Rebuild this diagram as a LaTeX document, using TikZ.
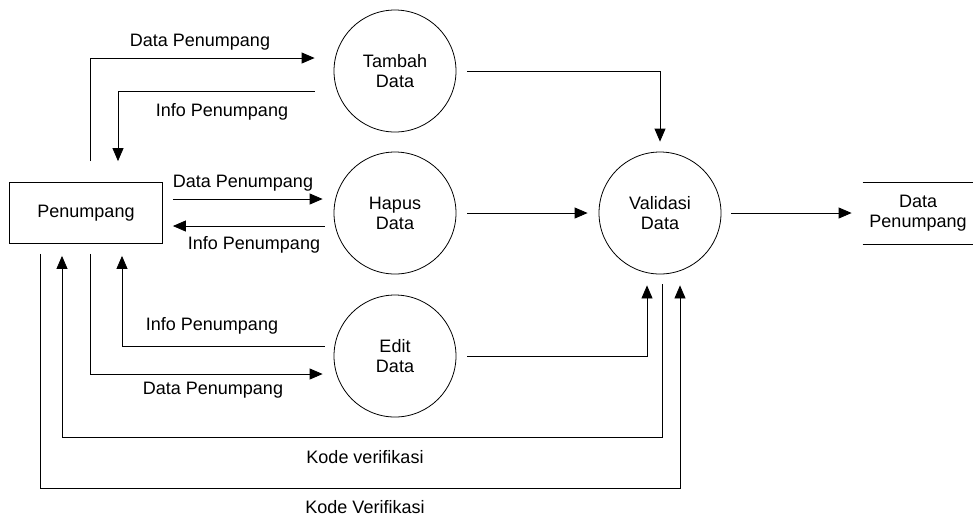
\documentclass[tikz,border=0pt]{standalone}
\usepackage{fontspec}
\setmainfont{Liberation Sans}
\usetikzlibrary{arrows.meta}
\begin{document}
\begin{tikzpicture}[x=0.5pt,y=-0.5pt,font=\fontsize{9}{10}\selectfont,
  box/.style={draw,minimum width=76.5pt,minimum height=30.5pt,inner sep=0pt},
  proc/.style={draw,circle,minimum size=61pt,inner sep=0pt,align=center},
  store/.style={minimum width=55pt,minimum height=30.5pt,inner sep=0pt,align=center},
  flow/.style={-{Triangle[length=6.5pt,width=5.5pt]}},
  lbl/.style={inner sep=0pt}]
\useasboundingbox (0,0) rectangle (973,516);
% entitas dan proses
\node[box] (pen) at (86,213) {Penumpang};
\node[proc] (tambah) at (395,71) {Tambah\\Data};
\node[proc] (hapus) at (395,213) {Hapus\\Data};
\node[proc] (edit) at (395,356) {Edit\\Data};
\node[proc] (valid) at (660,213) {Validasi\\Data};
\node[store] (store) at (918,213) {Data\\Penumpang};
\draw (store.north west) -- (store.north east) (store.south west) -- (store.south east);
% alur penumpang - tambah
\draw[flow] ([xshift=2pt,yshift=10.5pt]pen.north) |- ([xshift=-9.5pt,yshift=6.5pt]tambah.west);
\draw[flow] ([xshift=-9.5pt,yshift=-10pt]tambah.west) -| ([xshift=16pt,yshift=10.5pt]pen.north);
\node[lbl] (l1) at (200,42) {Data Penumpang};
\node[lbl] (l2) at (222,112) {Info Penumpang};
% alur penumpang - hapus
\draw[flow] ([xshift=5pt,yshift=7pt]pen.east) -- ([xshift=-5.5pt,yshift=7pt]hapus.west);
\draw[flow] ([xshift=-4.5pt,yshift=-6.5pt]hapus.west) -- ([xshift=5pt,yshift=-6.5pt]pen.east);
\node[lbl] (l3) at (243,183) {Data Penumpang};
\node[lbl] (l4) at (254,245) {Info Penumpang};
% alur penumpang - edit
\draw[flow] ([xshift=-4.5pt,yshift=5pt]edit.west) -| ([xshift=18pt,yshift=-6pt]pen.south);
\draw[flow] ([xshift=2pt,yshift=-5pt]pen.south) |- ([xshift=-5.5pt,yshift=-9pt]edit.west);
\node[lbl] (l5) at (212,326) {Info Penumpang};
\node[lbl] (l6) at (213,390) {Data Penumpang};
% ke validasi
\draw[flow] ([xshift=5.5pt]tambah.east) -| ([yshift=5pt]valid.north);
\draw[flow] ([xshift=5.5pt]hapus.east) -- ([xshift=-5.5pt]valid.west);
\draw[flow] ([xshift=5.5pt]edit.east) -| ([xshift=-6.5pt,yshift=-5.5pt]valid.south);
\draw[flow] ([xshift=5pt]valid.east) -- ([xshift=-5.5pt]store.west);
% kode verifikasi
\draw[flow] ([xshift=1pt,yshift=-5pt]valid.south) -- ++(0,153) -| ([xshift=-12pt,yshift=-6pt]pen.south);
\draw[flow] ([xshift=-23pt,yshift=-5pt]pen.south) -- ++(0,234) -| ([xshift=10pt,yshift=-5.5pt]valid.south);
\node[lbl] (l7) at (365,457) {Kode verifikasi};
\node[lbl] (l8) at (365,507) {Kode Verifikasi};
\end{tikzpicture}
\end{document}
